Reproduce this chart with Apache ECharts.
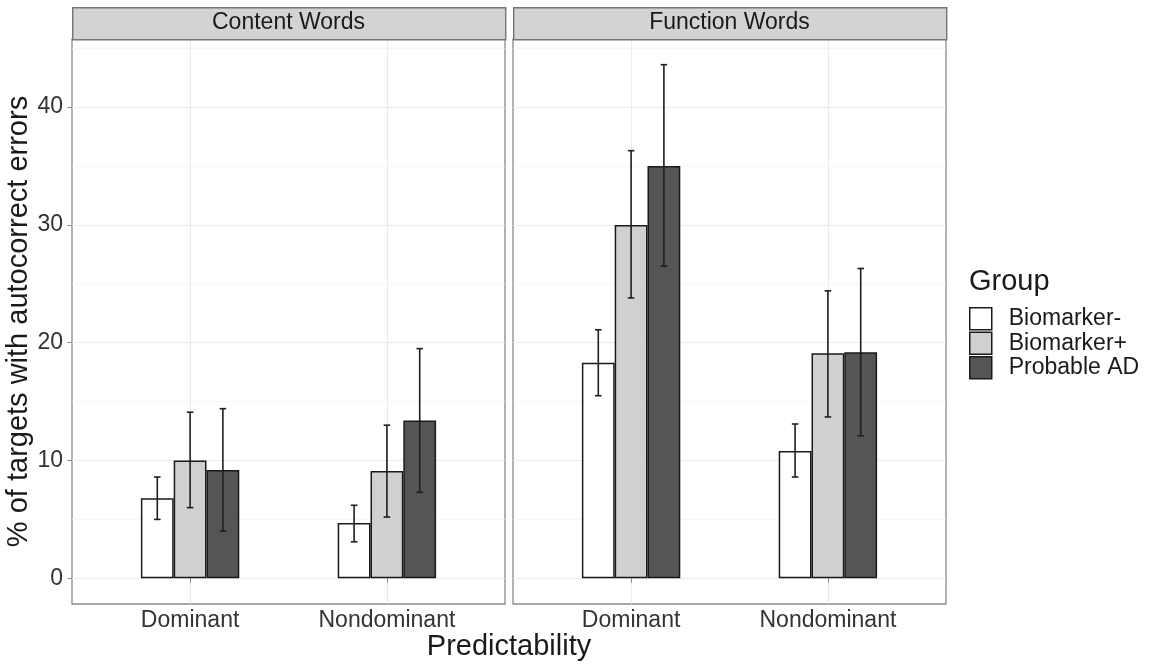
<!DOCTYPE html>
<html>
<head>
<meta charset="utf-8">
<style>
  html, body { margin: 0; padding: 0; background: #ffffff; }
  #chart { width: 1155px; height: 669px; }
</style>
<script src="https://cdn.jsdelivr.net/npm/echarts@6/dist/echarts.min.js"></script>
</head>
<body>
<div id="chart"></div>
<script>
// ---- Data ----
const categories = ['Dominant', 'Nondominant'];
const groups = ['Biomarker-', 'Biomarker+', 'Probable AD'];
const facets = ['Content Words', 'Function Words'];
const yTickValues = [0, 10, 20, 30, 40];
const yMinorValues = [5, 15, 25, 35, 45];

// Content Words: means and error-bar limits (Dominant, Nondominant)
const contentBioNeg = [6.8, 4.7];
const contentBioNegLo = [5.0, 3.1];
const contentBioNegHi = [8.6, 6.2];
const contentBioPos = [10.0, 9.1];
const contentBioPosLo = [6.0, 5.2];
const contentBioPosHi = [14.1, 13.0];
const contentProbAD = [9.2, 13.4];
const contentProbADLo = [4.0, 7.3];
const contentProbADHi = [14.4, 19.5];

// Function Words
const functionBioNeg = [18.3, 10.8];
const functionBioNegLo = [15.5, 8.6];
const functionBioNegHi = [21.1, 13.1];
const functionBioPos = [30.0, 19.1];
const functionBioPosLo = [23.8, 13.7];
const functionBioPosHi = [36.3, 24.4];
const functionProbAD = [35.0, 19.2];
const functionProbADLo = [26.5, 12.1];
const functionProbADHi = [43.6, 26.3];

// ---- Styling ----
const FONT = '"Liberation Sans", Arial, Helvetica, sans-serif';
const fills = ['#ffffff', '#d0d0d0', '#555555'];
const GROUP_WIDTH = 0.5;            // dodged group width in category units
const BAR_FRAC = GROUP_WIDTH / groups.length;

const panelMeans = [
  [contentBioNeg, contentBioPos, contentProbAD],
  [functionBioNeg, functionBioPos, functionProbAD]
];
const panelLo = [
  [contentBioNegLo, contentBioPosLo, contentProbADLo],
  [functionBioNegLo, functionBioPosLo, functionProbADLo]
];
const panelHi = [
  [contentBioNegHi, contentBioPosHi, contentProbADHi],
  [functionBioNegHi, functionBioPosHi, functionProbADHi]
];

// ggplot-like continuous expansion (5%) of [0, max]
const allHi = panelHi.flat(2);
const dataMax = Math.max(...allHi);
const pad = 0.05 * dataMax;
const yMin = -pad, yMax = dataMax + pad;

const grids = [
  { left: 72, top: 39, width: 433, height: 565 },
  { left: 513, top: 39, width: 433, height: 565 }
];

const xAxes = [], yAxes = [], series = [], graphics = [];

grids.forEach((g, p) => {
  xAxes.push({
    type: 'value', gridIndex: p, min: 0.4, max: 2.6,
    axisLine: { show: false },
    axisTick: { show: true, length: 4.5, customValues: [1, 2], lineStyle: { color: '#8a8a8a', width: 1 } },
    axisLabel: {
      customValues: [1, 2], margin: 5,
      formatter: v => categories[Math.round(v) - 1] || '',
      fontFamily: FONT, fontSize: 23, color: '#333333'
    },
    splitLine: { show: true, lineStyle: { color: '#ebebeb', width: 1.1 } }
  });
  // major y axis
  yAxes.push({
    type: 'value', gridIndex: p, min: yMin, max: yMax,
    name: p === 0 ? '% of targets with autocorrect errors' : '',
    nameLocation: 'middle', nameRotate: 90, nameGap: 39,
    nameTextStyle: { fontFamily: FONT, fontSize: 29, color: '#1a1a1a' },
    axisLine: { show: false },
    axisTick: { show: p === 0, length: 4.5, customValues: yTickValues, lineStyle: { color: '#8a8a8a', width: 1 } },
    axisLabel: {
      show: p === 0, customValues: yTickValues, margin: 9,
      fontFamily: FONT, fontSize: 23, color: '#333333'
    },
    splitLine: { show: true, lineStyle: { color: '#ebebeb', width: 1.1 } }
  });
});
// minor y axes (grid lines only)
grids.forEach((g, p) => {
  yAxes.push({
    type: 'value', gridIndex: p, min: yMin, max: yMax,
    axisLine: { show: false },
    axisTick: { show: false, customValues: yMinorValues },
    axisLabel: { show: false, customValues: yMinorValues },
    splitLine: { show: true, lineStyle: { color: '#f3f3f3', width: 0.7 } }
  });
});

// bars
grids.forEach((g, p) => {
  groups.forEach((name, k) => {
    series.push({
      type: 'bar', name: name, xAxisIndex: p, yAxisIndex: p,
      barWidth: (BAR_FRAC * 100) + '%', barGap: '0%',
      itemStyle: { color: fills[k], borderColor: '#1a1a1a', borderWidth: 1.5 },
      emphasis: { disabled: true },
      data: categories.map((c, i) => [i + 1, panelMeans[p][k][i]]),
      z: 2
    });
  });
});

// error bars
function renderErr(params, api) {
  const x = api.value(0), lo = api.value(1), hi = api.value(2), k = api.value(3);
  const band = api.size([1, 0])[0];
  const bw = band * BAR_FRAC;
  const off = (k - (groups.length - 1) / 2) * bw;
  const pLo = api.coord([x, lo]);
  const pHi = api.coord([x, hi]);
  const cx = pLo[0] + off;
  const cap = bw * 0.1;
  const st = { stroke: '#1f1f1f', lineWidth: 1.6 };
  return {
    type: 'group',
    children: [
      { type: 'line', shape: { x1: cx, y1: pLo[1], x2: cx, y2: pHi[1] }, style: st },
      { type: 'line', shape: { x1: cx - cap, y1: pLo[1], x2: cx + cap, y2: pLo[1] }, style: st },
      { type: 'line', shape: { x1: cx - cap, y1: pHi[1], x2: cx + cap, y2: pHi[1] }, style: st }
    ]
  };
}
grids.forEach((g, p) => {
  const data = [];
  groups.forEach((name, k) => {
    categories.forEach((c, i) => {
      data.push([i + 1, panelLo[p][k][i], panelHi[p][k][i], k]);
    });
  });
  series.push({
    type: 'custom', name: 'err' + p, xAxisIndex: p, yAxisIndex: p,
    renderItem: renderErr, data: data, z: 5, silent: true,
    encode: { x: 0, y: [1, 2] }
  });
});

// facet strips
grids.forEach((g, p) => {
  graphics.push({
    type: 'rect', left: g.left, top: 7, z: 10,
    shape: { width: g.width, height: 32 },
    style: { fill: '#d3d3d3', stroke: '#747474', lineWidth: 1.4 }
  });
  graphics.push({
    type: 'text', x: g.left + g.width / 2, y: 23, z: 11,
    style: {
      text: facets[p], fontFamily: FONT, fontSize: 23, fill: '#1a1a1a',
      align: 'center', verticalAlign: 'middle'
    }
  });
});
// x-axis title
graphics.push({
  type: 'text', x: (grids[0].left + grids[1].left + grids[1].width) / 2, y: 647, z: 10,
  style: {
    text: 'Predictability', fontFamily: FONT, fontSize: 29, fill: '#1a1a1a',
    align: 'center', verticalAlign: 'middle'
  }
});

const option = {
  animation: false,
  backgroundColor: '#ffffff',
  title: {
    text: 'Group', left: 969, top: 267, padding: 0,
    textStyle: { fontFamily: FONT, fontSize: 29, fontWeight: 'normal', color: '#1a1a1a' }
  },
  legend: {
    data: groups, orient: 'vertical', left: 969, top: 307, padding: 0,
    itemWidth: 22, itemHeight: 22, itemGap: 1, icon: 'rect',
    selectedMode: false,
    itemStyle: { borderColor: '#1a1a1a', borderWidth: 1.5 },
    textStyle: { fontFamily: FONT, fontSize: 23, color: '#1a1a1a', lineHeight: 22, padding: [0, 0, 0, 12] }
  },
  grid: grids.map(g => Object.assign({
    show: true, borderColor: '#8a8a8a', borderWidth: 1.3, backgroundColor: '#ffffff', containLabel: false
  }, g)),
  xAxis: xAxes,
  yAxis: yAxes,
  series: series,
  graphic: graphics
};

const chart = echarts.init(document.getElementById('chart'), null, { renderer: 'canvas' });
chart.setOption(option);
</script>
</body>
</html>
